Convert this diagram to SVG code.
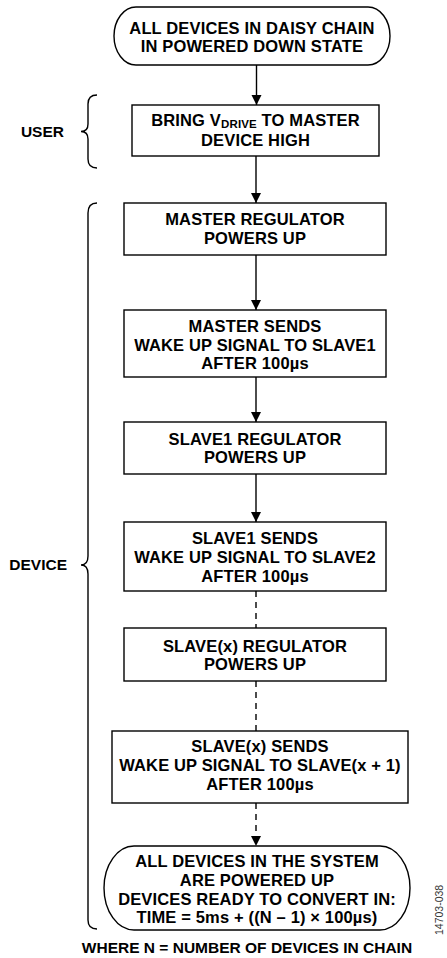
<svg xmlns="http://www.w3.org/2000/svg" width="447" height="958" viewBox="0 0 447 958">
<style>
.b{fill:#fff;stroke:#000;stroke-width:1.4}
.t{font-family:"Liberation Sans",Arial,sans-serif;font-weight:bold;font-size:16.5px;letter-spacing:0.15px;fill:#000;text-anchor:middle}
.l{font-family:"Liberation Sans",Arial,sans-serif;font-weight:bold;font-size:15.5px;fill:#000}
.c{fill:none;stroke:#000;stroke-width:1.4}
.d{fill:none;stroke:#000;stroke-width:1.4;stroke-dasharray:6 5}
.br{fill:none;stroke:#000;stroke-width:1.4}
</style>
<defs>
<marker id="ah" viewBox="0 0 10 16" refX="10" refY="8" markerWidth="10" markerHeight="16" markerUnits="userSpaceOnUse" orient="auto">
<path d="M0,3 L10,8 L0,13 Z" fill="#000"/>
</marker>
</defs>
<g id="connectors">
<line class="c" x1="256.5" y1="65" x2="256.5" y2="105" marker-end="url(#ah)"/>
<line class="c" x1="256" y1="156" x2="256" y2="203" marker-end="url(#ah)"/>
<line class="c" x1="256" y1="255" x2="256" y2="310" marker-end="url(#ah)"/>
<line class="c" x1="256" y1="377" x2="256" y2="422" marker-end="url(#ah)"/>
<line class="c" x1="256" y1="474" x2="256" y2="522" marker-end="url(#ah)"/>
<line class="d" x1="256" y1="591" x2="256" y2="628"/>
<line class="d" x1="256" y1="681" x2="256" y2="731"/>
<line class="d" x1="256" y1="803" x2="256" y2="846" stroke-dasharray="6 5 6 5 13" marker-end="url(#ah)"/>
</g>
<g id="n1">
<rect class="b" x="114" y="7" width="276" height="58" rx="22" ry="29"/>
<text class="t" x="252" y="33.5">ALL DEVICES IN DAISY CHAIN</text>
<text class="t" x="252" y="52">IN POWERED DOWN STATE</text>
</g>
<g id="n2">
<rect class="b" x="132" y="105" width="247" height="51"/>
<text class="t" x="255.5" y="125.5">BRING V<tspan font-size="11.5" dy="2.5">DRIVE</tspan><tspan dy="-2.5"> TO MASTER</tspan></text>
<text class="t" x="255.5" y="146">DEVICE HIGH</text>
</g>
<g id="n3">
<rect class="b" x="124" y="203" width="262" height="52"/>
<text class="t" x="255" y="225">MASTER REGULATOR</text>
<text class="t" x="255" y="243.5">POWERS UP</text>
</g>
<g id="n4">
<rect class="b" x="124" y="310" width="262" height="67"/>
<text class="t" x="255" y="332">MASTER SENDS</text>
<text class="t" x="255" y="350.5">WAKE UP SIGNAL TO SLAVE1</text>
<text class="t" x="255" y="369">AFTER 100µs</text>
</g>
<g id="n5">
<rect class="b" x="124" y="422" width="262" height="52"/>
<text class="t" x="255" y="444.5">SLAVE1 REGULATOR</text>
<text class="t" x="255" y="463">POWERS UP</text>
</g>
<g id="n6">
<rect class="b" x="124" y="522" width="262" height="69"/>
<text class="t" x="255" y="544">SLAVE1 SENDS</text>
<text class="t" x="255" y="563">WAKE UP SIGNAL TO SLAVE2</text>
<text class="t" x="255" y="582">AFTER 100µs</text>
</g>
<g id="n7">
<rect class="b" x="124" y="628" width="262" height="53"/>
<text class="t" x="255" y="651.5">SLAVE(x) REGULATOR</text>
<text class="t" x="255" y="670">POWERS UP</text>
</g>
<g id="n8">
<rect class="b" x="112" y="731" width="296" height="72"/>
<text class="t" x="260" y="751.5">SLAVE(x) SENDS</text>
<text class="t" x="260" y="770.5">WAKE UP SIGNAL TO SLAVE(x + 1)</text>
<text class="t" x="260" y="789.5">AFTER 100µs</text>
</g>
<g id="n9">
<rect class="b" x="104" y="846" width="306" height="84" rx="30" ry="42"/>
<text class="t" x="257" y="866.5">ALL DEVICES IN THE SYSTEM</text>
<text class="t" x="257" y="885.5">ARE POWERED UP</text>
<text class="t" x="257" y="904.5">DEVICES READY TO CONVERT IN:</text>
<text class="t" x="257" y="923">TIME = 5ms + ((N – 1) × 100µs)</text>
</g>
<g id="user">
<path class="br" d="M97,95 C91,95 88,98 88,104 L88,124 C88,129 85,131.5 81,131.5 C85,131.5 88,134 88,139 L88,159 C88,165 91,168 97,168"/>
<text class="l" x="64" y="137" text-anchor="end">USER</text>
</g>
<g id="device">
<path class="br" d="M97,203 C91,203 88,206 88,213 L88,556 C88,562 85,565 81,565 C85,565 88,568 88,574 L88,920 C88,926 91,929 97,929"/>
<text class="l" x="67" y="569.5" text-anchor="end">DEVICE</text>
</g>
<text class="l" x="247" y="953" text-anchor="middle">WHERE N = NUMBER OF DEVICES IN CHAIN</text>
<text x="0" y="0" transform="translate(443,935) rotate(-90)" font-family="'Liberation Sans',Arial,sans-serif" font-size="10.5" fill="#333">14703-038</text>
</svg>
